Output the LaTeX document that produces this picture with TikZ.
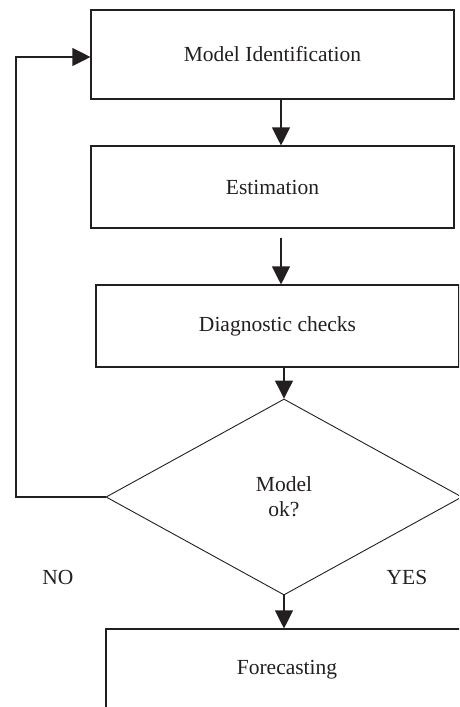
\documentclass[tikz,border=0pt]{standalone}
\usepackage{fontspec}
\setmainfont{Liberation Serif}
\usetikzlibrary{shapes.geometric,arrows.meta}
\definecolor{ink}{HTML}{231F20}
\begin{document}
\begin{tikzpicture}[x=1pt,y=-1pt,
  every node/.style={font=\fontsize{21.5}{25}\selectfont, text=ink},
  box/.style={draw=ink, line width=1.1pt, rectangle, inner sep=0pt},
  arr/.style={draw=ink, line width=1.1pt, -{Triangle[length=18pt,width=18pt]}},
  plain/.style={draw=ink, line width=1.1pt}]
\useasboundingbox (0,0) rectangle (459,707);
\clip (0,0) rectangle (459,707);
\node[box, minimum width=363pt, minimum height=89pt] (b1) at (272.5,54.5) {Model Identification};
\node[box, minimum width=363pt, minimum height=82pt] (b2) at (272.5,187) {Estimation};
\node[box, minimum width=363pt, minimum height=82pt] (b3) at (277.5,326) {Diagnostic checks};
\node[draw=ink, line width=0.9pt, diamond, inner sep=0pt, minimum width=356pt, minimum height=196pt, align=center] (d) at (284,497) {Model\\ok?};
\node[box, minimum width=362pt, minimum height=82pt] (b4) at (287,670) {Forecasting};
\node (no) at (58,577) {NO};
\node (yes) at (407,577) {YES};
\draw[arr] (b1.south -| 281,0) -- (b2.north -| 281,0);
\draw[arr, shorten <=9pt] (b2.south -| 281,0) -- (b3.north -| 281,0);
\draw[arr] (d.north |- b3.south) -- (d.north);
\draw[arr] (d.south) -- (b4.north -| d.south);
\coordinate (lc) at (16,497);
\draw[arr] (d.west) -- (lc) |- ([yshift=-2.5pt]b1.west);
\end{tikzpicture}
\end{document}
